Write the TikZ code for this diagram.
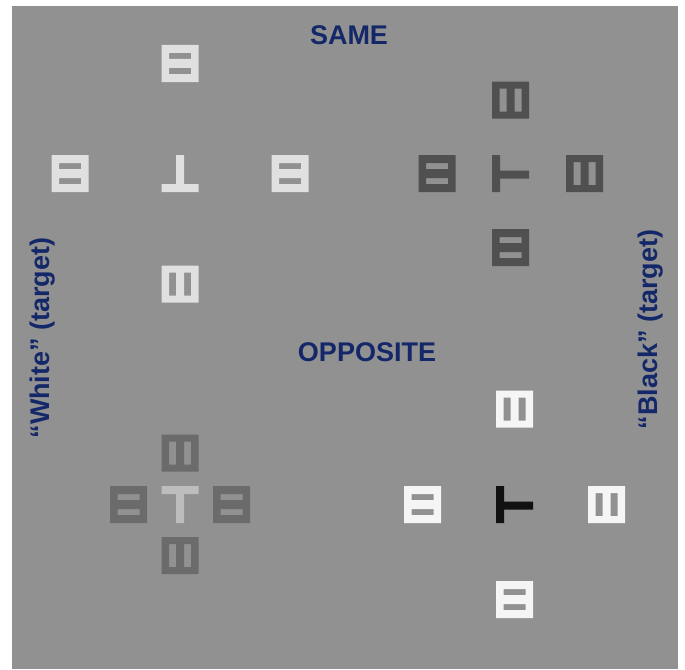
\documentclass[tikz,border=0pt]{standalone}
\usepackage{fontspec}
\setmainfont{Liberation Sans}
\definecolor{bg}{RGB}{145,145,145}
\definecolor{navy}{RGB}{20,40,105}
\definecolor{cLight}{RGB}{224,224,224}
\definecolor{cDark}{RGB}{80,80,80}
\definecolor{cMid}{RGB}{107,107,107}
\definecolor{cTgray}{RGB}{189,189,189}
\definecolor{cWhite}{RGB}{245,245,245}
\definecolor{cBlack}{RGB}{17,17,17}
\tikzset{
  hsq/.pic={\fill[pic actions,even odd rule] (-18.5,-18.5) rectangle (18.5,18.5)
      (-11,-10.5) rectangle (11,-4.5) (-11,4.5) rectangle (11,10.5);},
  vsq/.pic={\fill[pic actions,even odd rule] (-18.5,-18.5) rectangle (18.5,18.5)
      (-11,-11.5) rectangle (-4,11.5) (4,-11.5) rectangle (11,11.5);},
  tdown/.pic={\fill[pic actions] (-4,-18.5) rectangle (4,10.5) (-18.5,10.5) rectangle (18.5,18.5);},
  tup/.pic={\fill[pic actions] (-18.5,-18.5) rectangle (18.5,-10.5) (-4,-10.5) rectangle (4,18.5);},
  tright/.pic={\fill[pic actions] (-18.5,-18.5) rectangle (-10.5,18.5) (-10.5,-3) rectangle (18.5,5);},
  lbl/.style={font=\bfseries\fontsize{27}{27}\selectfont, text=navy, inner sep=0pt},
}
\begin{document}
\begin{tikzpicture}[x=1pt,y=-1pt]
\useasboundingbox (0,0) rectangle (685,669);
\fill[white] (0,0) rectangle (685,669);
\fill[bg] (12,6) rectangle (678,669);
% top-left cluster (SAME, white target)
\pic[fill=cLight] at (180,63.5) {hsq};
\pic[fill=cLight] at (70,173.5) {hsq};
\pic[fill=cLight] at (290,173.5) {hsq};
\pic[fill=cLight] at (180,284) {vsq};
\pic[fill=cLight] at (180,173.5) {tdown};
% top-right cluster (SAME, black target)
\pic[fill=cDark] at (510.5,100) {vsq};
\pic[fill=cDark] at (437,173.5) {hsq};
\pic[fill=cDark] at (584.5,173.5) {vsq};
\pic[fill=cDark] at (510.5,247.5) {hsq};
\pic[fill=cDark] at (510.5,173.5) {tright};
% bottom-left cluster (OPPOSITE, white target)
\pic[fill=cMid] at (180,453) {vsq};
\pic[fill=cMid] at (128.5,504.5) {hsq};
\pic[fill=cMid] at (231.5,504.5) {hsq};
\pic[fill=cMid] at (180,555.5) {vsq};
\pic[fill=cTgray] at (180,504.5) {tup};
% bottom-right cluster (OPPOSITE, black target)
\pic[fill=cWhite] at (514.5,409) {vsq};
\pic[fill=cWhite] at (422.5,504.5) {hsq};
\pic[fill=cWhite] at (606.5,504.5) {vsq};
\pic[fill=cWhite] at (514.5,599.5) {hsq};
\pic[fill=cBlack] at (514.5,504.5) {tright};
% labels
\node[lbl] (same) at (349,35.5) {SAME};
\node[lbl] (opp) at (367,352.5) {OPPOSITE};
\node[lbl, rotate=90] (white) at (42.5,338) {“White” (target)};
\node[lbl, rotate=90] (black) at (651,329.5) {“Black” (target)};
\end{tikzpicture}
\end{document}
